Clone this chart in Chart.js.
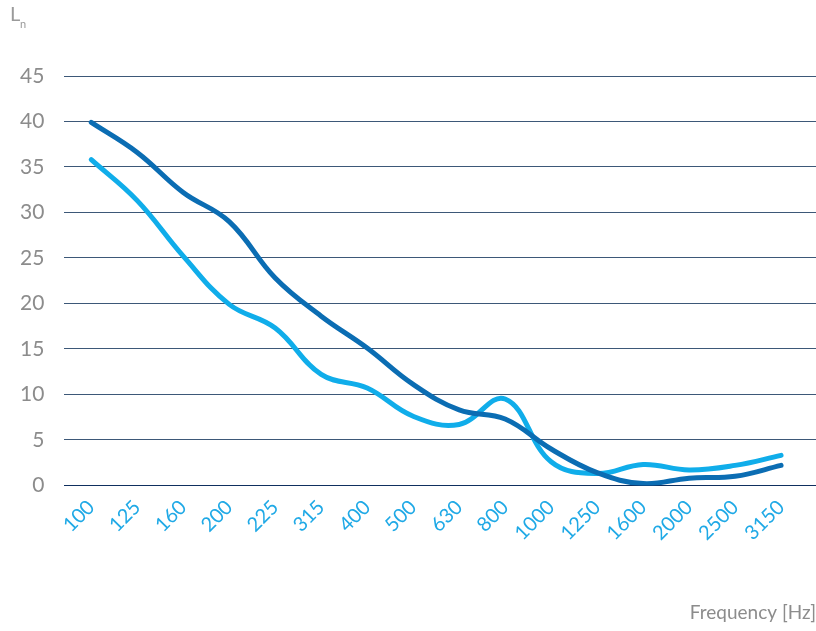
<!DOCTYPE html>
<html>
<head>
<meta charset="utf-8">
<script src="https://cdn.jsdelivr.net/npm/chart.js@4.4.0/dist/chart.umd.min.js"></script>
<style>
  html, body { margin: 0; padding: 0; background: #fff; }
  #wrap { width: 816px; height: 631px; position: relative; }
</style>
</head>
<body>
<div id="wrap"><canvas id="lineChart"></canvas></div>
<script>
const FREQS = ["100", "125", "160", "200", "225", "315", "400", "500", "630", "800", "1000", "1250", "1600", "2000", "2500", "3150"];
const DARK = [39.9, 36.6, 32.2, 29.0, 22.8, 18.6, 15.1, 11.1, 8.3, 7.3, 4.0, 1.4, 0.2, 0.8, 1.0, 2.2];
const LIGHT = [35.8, 31.3, 25.2, 19.9, 17.3, 12.2, 10.7, 7.6, 6.7, 9.5, 2.6, 1.3, 2.3, 1.7, 2.2, 3.3];
const Y_TICKS = [0, 5, 10, 15, 20, 25, 30, 35, 40, 45];

const FONT = "Lato, 'Open Sans', sans-serif";

// "L" with subscript "n" in the top left corner
const unitLabel = {
  id: "unitLabel",
  afterDraw(chart) {
    const ctx = chart.ctx;
    ctx.save();
    ctx.fillStyle = "#9a9a9a";
    ctx.textBaseline = "alphabetic";
    ctx.font = "20px " + FONT;
    ctx.fillText("L", 10, 21);
    ctx.font = "11px " + FONT;
    ctx.fillText("n", 20, 28);
    ctx.restore();
  }
};

const CHART = document.getElementById("lineChart");

let lineChart = new Chart(CHART, {
  type: "line",
  data: {
    datasets: [
      {
        label: "dark",
        data: DARK.map((v, i) => ({ x: i, y: v })),
        borderColor: "#0b6db3",
        borderWidth: 5,
        borderCapStyle: "round",
        borderJoinStyle: "round",
        tension: 0.4,
        pointRadius: 0,
        fill: false
      },
      {
        label: "light",
        data: LIGHT.map((v, i) => ({ x: i, y: v })),
        borderColor: "#10adea",
        borderWidth: 5,
        borderCapStyle: "round",
        borderJoinStyle: "round",
        tension: 0.4,
        pointRadius: 0,
        fill: false
      }
    ]
  },
  options: {
    responsive: true,
    maintainAspectRatio: false,
    animation: false,
    layout: { padding: { top: 76, right: 0, left: 0, bottom: 7 } },
    plugins: {
      legend: { display: false },
      tooltip: { enabled: false }
    },
    scales: {
      x: {
        type: "linear",
        min: -0.585,
        max: 15.76,
        afterBuildTicks: (scale) => {
          scale.ticks = FREQS.map((_, i) => ({ value: i }));
        },
        grid: { display: false, drawTicks: false },
        border: { display: false },
        ticks: {
          autoSkip: false,
          maxRotation: 45,
          minRotation: 45,
          padding: 10,
          color: "#1fa9e6",
          font: { family: FONT, size: 20 },
          callback: (v) => FREQS[v]
        },
        title: {
          display: true,
          text: "Frequency [Hz]",
          align: "end",
          color: "#8c8c8c",
          font: { family: FONT, size: 19 },
          padding: { top: 46, bottom: 0 }
        }
      },
      y: {
        min: 0,
        max: 45,
        afterBuildTicks: (scale) => {
          scale.ticks = Y_TICKS.map((v) => ({ value: v }));
        },
        grid: {
          drawTicks: false,
          lineWidth: 1,
          color: (c) => (c.tick && c.tick.value === 0 ? "#0f2f5f" : "#3d5878")
        },
        border: { display: false },
        ticks: {
          padding: 20,
          color: "#8c8c8c",
          font: { family: FONT, size: 21 }
        }
      }
    }
  },
  plugins: [unitLabel]
});
</script>
</body>
</html>
